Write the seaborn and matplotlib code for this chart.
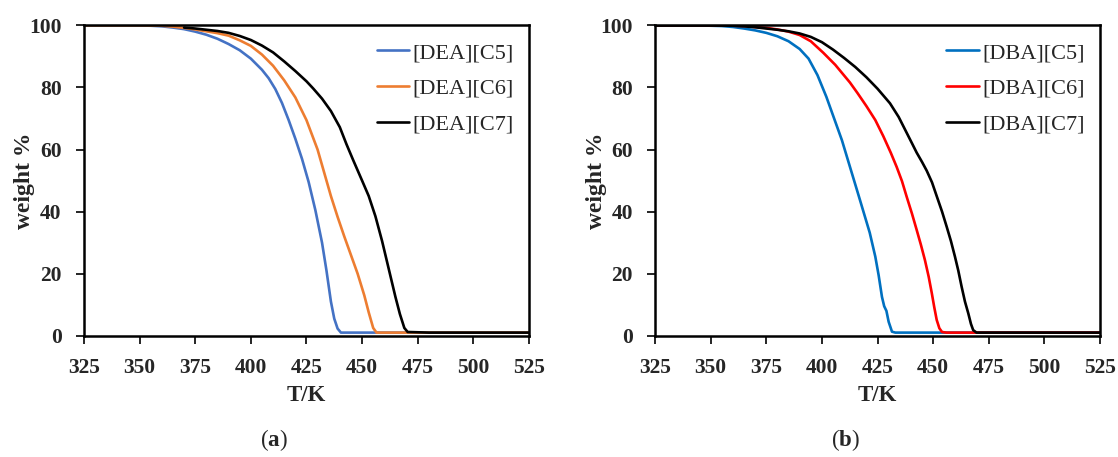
import numpy as np
import pandas as pd
import matplotlib
matplotlib.use('Agg')
import matplotlib.pyplot as plt
import seaborn as sns

# (a) [DEA] series: temperature (K) and weight (%)
t_dea_c5 = [325, 345, 355, 360, 365, 370, 375, 380, 385, 390, 395, 400, 405, 408, 411, 414, 417, 420, 423, 426, 429, 432, 434, 436, 437.5, 439, 440.5, 445, 525]
w_dea_c5 = [100, 100, 99.9, 99.7, 99.3, 98.8, 98.0, 97.0, 95.7, 94.0, 92.0, 89.3, 85.7, 83.0, 79.5, 75.0, 69.5, 63.5, 57.0, 49.5, 40.5, 30.0, 21.0, 11.0, 5.5, 2.3, 1.0, 1.0, 1.0]
t_dea_c6 = [325, 350, 360, 365, 370, 375, 380, 385, 390, 395, 400, 405, 410, 415, 420, 425, 430, 433, 436, 439, 442, 445, 448, 451, 453, 455, 456.5, 460, 525]
w_dea_c6 = [100, 100, 99.9, 99.6, 99.2, 98.7, 98.1, 97.5, 96.7, 95.2, 93.4, 90.6, 87.0, 82.3, 76.8, 69.5, 60.0, 52.5, 45.0, 38.3, 32.0, 26.0, 20.0, 13.0, 7.5, 2.5, 1.0, 1.0, 1.0]
t_dea_c7 = [370, 375, 380, 385, 390, 395, 400, 405, 410, 415, 420, 425, 428, 432, 436, 440, 443, 446, 450, 453, 456, 459, 462, 465, 467, 469, 470.5, 480, 525]
w_dea_c7 = [99.3, 99.0, 98.6, 98.2, 97.6, 96.6, 95.3, 93.5, 91.3, 88.4, 85.3, 82.0, 79.7, 76.4, 72.4, 67.2, 61.7, 56.6, 50.0, 45.0, 38.5, 30.5, 21.5, 12.5, 7.0, 2.5, 1.2, 1.0, 1.0]

# (b) [DBA] series
t_dba_c5 = [325, 345, 355, 360, 365, 370, 375, 380, 385, 390, 394, 398, 402, 405, 409, 413, 417, 421.5, 424, 425.5, 427, 428, 429, 430, 431.5, 433, 440, 525]
w_dba_c5 = [100, 100, 99.8, 99.5, 99.0, 98.4, 97.6, 96.5, 94.9, 92.4, 89.3, 84.0, 77.0, 71.0, 63.0, 53.5, 44.0, 33.2, 25.5, 19.5, 12.5, 9.5, 8.0, 4.5, 1.3, 1.0, 1.0, 1.0]
t_dba_c6 = [325, 350, 360, 365, 370, 375, 380, 385, 390, 395, 400.6, 406, 412.6, 416, 420, 424, 427.6, 431, 433.6, 436, 438.1, 440.5, 442.6, 444.5, 446.3, 448, 449.4, 450.5, 451.6, 452.8, 454, 456, 525]
w_dba_c6 = [100, 100, 99.9, 99.8, 99.5, 99.2, 98.7, 98.0, 96.9, 94.9, 91.2, 87.3, 81.6, 78.2, 74.0, 69.5, 64.3, 58.9, 54.4, 49.8, 44.8, 39.3, 34.1, 29.3, 24.4, 19.0, 13.7, 9.2, 5.1, 2.4, 1.2, 1.0, 1.0]
t_dba_c7 = [325, 350, 360, 365, 370, 375, 380, 385, 390, 395, 400, 405, 410, 415, 420, 425, 430.6, 434.5, 438.1, 440.5, 442.6, 445, 447.1, 449.5, 451.6, 454, 456.1, 458, 459.8, 461.3, 462.8, 464.3, 465.8, 467, 468, 469.5, 525]
w_dba_c7 = [100, 100, 99.9, 99.7, 99.4, 99.0, 98.6, 98.1, 97.4, 96.3, 94.6, 92.2, 89.5, 86.6, 83.3, 79.6, 74.9, 70.5, 65.4, 62.0, 59.0, 56.0, 53.2, 49.4, 45.0, 40.0, 35.1, 30.5, 25.5, 21.0, 15.8, 11.0, 7.2, 3.8, 1.8, 1.0, 1.0]

x_ticks = [325, 350, 375, 400, 425, 450, 475, 500, 525]
y_ticks = [0, 20, 40, 60, 80, 100]


def long_df(pairs):
    parts = []
    for name, t, w in pairs:
        parts.append(pd.DataFrame({'T': t, 'w': w, 'IL': name}))
    return pd.concat(parts, ignore_index=True)


df_a = long_df([('[DEA][C5]', t_dea_c5, w_dea_c5),
                ('[DEA][C6]', t_dea_c6, w_dea_c6),
                ('[DEA][C7]', t_dea_c7, w_dea_c7)])
df_b = long_df([('[DBA][C5]', t_dba_c5, w_dba_c5),
                ('[DBA][C6]', t_dba_c6, w_dba_c6),
                ('[DBA][C7]', t_dba_c7, w_dba_c7)])

pal_a = {'[DEA][C5]': '#4472C4', '[DEA][C6]': '#ED7D31', '[DEA][C7]': '#000000'}
pal_b = {'[DBA][C5]': '#0070C0', '[DBA][C6]': '#FF0000', '[DBA][C7]': '#000000'}

sns.set_style('white')
plt.rcParams['font.family'] = ['Liberation Serif', 'DejaVu Serif']
plt.rcParams['mathtext.fontset'] = 'custom'
plt.rcParams['mathtext.rm'] = 'Liberation Serif'
plt.rcParams['mathtext.bf'] = 'Liberation Serif:bold'

fig = plt.figure(figsize=(11.18, 4.57), dpi=100)
ax_a = fig.add_axes([0.0751, 0.2654, 0.398, 0.679])
ax_b = fig.add_axes([0.5859, 0.2654, 0.398, 0.679])

for ax, df, pal, tag in [(ax_a, df_a, pal_a, 'a'), (ax_b, df_b, pal_b, 'b')]:
    sns.lineplot(data=df, x='T', y='w', hue='IL', palette=pal, sort=False,
                 estimator=None, linewidth=1.9, ax=ax)
    ax.set_xlim(325, 525)
    ax.set_ylim(0, 100)
    ax.set_xticks(x_ticks)
    ax.set_yticks(y_ticks)
    ax.tick_params(direction='out', length=6, width=1.2, pad=10, labelsize=15.5,
                   left=True, bottom=True, color='black')
    for lab in ax.get_xticklabels() + ax.get_yticklabels():
        lab.set_fontweight('bold')
    for sp in ax.spines.values():
        sp.set_color('black')
        sp.set_linewidth(1.8)
    ax.set_xlabel('T/K', fontsize=16.5, fontweight='bold')
    ax.set_ylabel('weight %', fontsize=17, fontweight='bold')
    ax.xaxis.set_label_coords(0.5, -0.194)
    ax.xaxis.label.set_va('center')
    ax.yaxis.set_label_coords(-0.1326, 0.5)
    ax.yaxis.label.set_va('center')
    ax.legend(loc='upper right', bbox_to_anchor=(1.0, 0.995), frameon=False,
              fontsize=16, handlelength=1.45, handletextpad=0.15,
              labelspacing=0.68, borderaxespad=0.3)
    pos = ax.get_position()
    fig.text(pos.x0 + pos.width / 2 - 0.029, 0.037, '(' + r'$\mathbf{' + tag + '}$' + ')',
             fontsize=16.5, ha='center', va='center')

fig.savefig('out.png', dpi=100)
